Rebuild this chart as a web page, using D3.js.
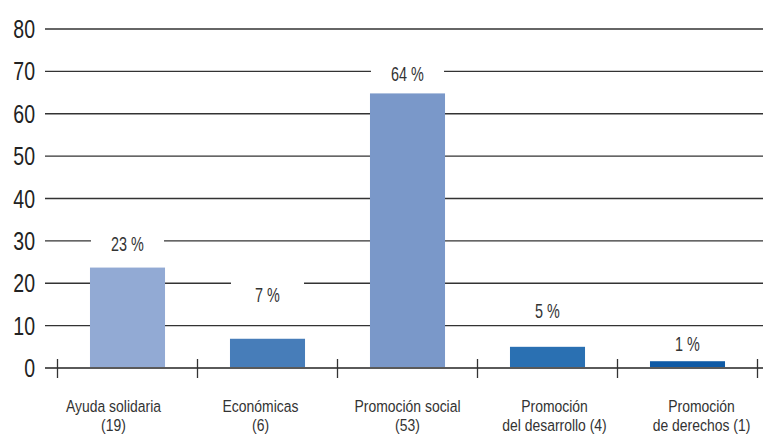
<!DOCTYPE html>
<html><head><meta charset="utf-8">
<script src="https://cdn.jsdelivr.net/npm/d3@7"></script>
<style>
html,body{margin:0;padding:0;background:#fff;}
text{font-family:"Liberation Sans",Arial,sans-serif;}
</style></head>
<body><svg id="c" width="763" height="436"></svg>
<script>
const categories = [["Ayuda solidaria","(19)"],["Económicas","(6)"],["Promoción social","(53)"],["Promoción","del desarrollo (4)"],["Promoción","de derechos (1)"]];
const values = [23.7, 6.9, 64.8, 5.0, 1.6];
const labels = ["23 %","7 %","64 %","5 %","1 %"];
const labelAt = [27.6, 15.6, 67.7, 11.7, 4.0];
const colors = ["#92aad4","#477db9","#7a98c9","#2a70b2","#0f5aa5"];
const yTicks = [0,10,20,30,40,50,60,70,80];

const svg = d3.select("#c");
const x = d3.scaleBand().domain(d3.range(categories.length)).range([57.5,757.5]).paddingInner(0.464).paddingOuter(0.232);
const y = d3.scaleLinear().domain([0,80]).range([368,29]);
const mid = (x.range()[0]+x.range()[1])/2;
const labelX = i => mid + (x(i)+x.bandwidth()/2 - mid)*1.05;

// gridlines
svg.append("g").selectAll("line").data(yTicks.filter(d=>d>0)).join("line")
  .attr("x1",45).attr("x2",763).attr("y1",d=>y(d)).attr("y2",d=>y(d))
  .attr("stroke","#333").attr("stroke-width",1.3);

// y tick labels
svg.append("g").selectAll("text").data(yTicks).join("text")
  .attr("transform",d=>`translate(35,${y(d)+9}) scale(0.78,1)`)
  .attr("text-anchor","end")
  .attr("font-size",25).attr("fill","#222").text(d=>d);

// bars
svg.append("g").selectAll("rect").data(values).join("rect")
  .attr("x",(d,i)=>x(i)).attr("width",x.bandwidth())
  .attr("y",d=>y(d)).attr("height",d=>y(0)-y(d))
  .attr("fill",(d,i)=>colors[i]);

// value labels with white boxes
const lg = svg.append("g").selectAll("g").data(labels).join("g");
lg.append("rect").attr("x",(d,i)=>x(i)+1).attr("width",x.bandwidth()-2)
  .attr("y",(d,i)=>y(labelAt[i])-22).attr("height",27).attr("fill","#fff");
lg.append("text")
  .attr("transform",(d,i)=>`translate(${x(i)+x.bandwidth()/2},${y(labelAt[i])}) scale(0.72,1)`)
  .attr("text-anchor","middle").attr("font-size",20).attr("fill","#333").text(d=>d);

// x axis line
svg.append("line").attr("x1",45).attr("x2",763).attr("y1",y(0)).attr("y2",y(0))
  .attr("stroke","#5a5a5a").attr("stroke-width",2);
// tick marks at band boundaries
const step = x.step();
const bounds = d3.range(categories.length+1).map(i=>x(0)-x.paddingOuter()*step + i*step);
svg.append("g").selectAll("line").data(bounds).join("line")
  .attr("x1",d=>d).attr("x2",d=>d).attr("y1",359).attr("y2",378)
  .attr("stroke","#333").attr("stroke-width",1.3);

// category labels
const cg = svg.append("g").selectAll("text").data(categories).join("text")
  .attr("text-anchor","middle").attr("font-size",17).attr("fill","#333")
  .attr("transform",(d,i)=>`translate(${labelX(i)},412) scale(0.82,1)`);
cg.selectAll("tspan").data(d=>d).join("tspan").attr("x",0).attr("dy",(d,j)=>j?19:0).text(d=>d);
</script></body></html>
